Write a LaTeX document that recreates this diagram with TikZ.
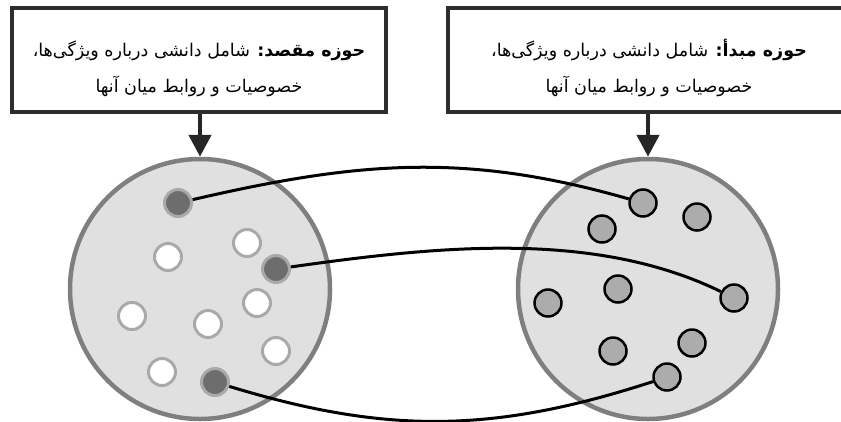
\documentclass[tikz,border=0pt]{standalone}
\usepackage{fontspec}
\usepackage{tikz}
\usetikzlibrary{arrows.meta}
\TeXXeTstate=1
\newfontfamily\arabicfont[Script=Arabic]{DejaVu Sans}
\definecolor{boxline}{HTML}{2E2E2E}
\definecolor{arrowline}{HTML}{262626}
\definecolor{discline}{HTML}{7F7F7F}
\definecolor{discfill}{HTML}{E0E0E0}
\definecolor{darkdot}{HTML}{6D6D6D}
\definecolor{dotring}{HTML}{A9A9A9}
\definecolor{greydot}{HTML}{ACACAC}

\begin{document}
\begin{tikzpicture}[x=1pt,y=-1pt,
  infobox/.style={draw=boxline,line width=4pt,fill=white,minimum height=104pt,
    align=center,font=\arabicfont\fontsize{17.5}{36}\selectfont},
  bigdisc/.style={circle,draw=discline,fill=discfill,line width=4.5pt,
    minimum size=260pt,inner sep=0pt},
  darkdotnode/.style={circle,draw=dotring,fill=darkdot,line width=3pt,
    minimum size=27pt,inner sep=0pt},
  whitedot/.style={circle,draw=dotring,fill=white,line width=3pt,
    minimum size=27pt,inner sep=0pt},
  greydotnode/.style={circle,draw=black,fill=greydot,line width=2.5pt,
    minimum size=27pt,inner sep=0pt},
  flowarrow/.style={draw=arrowline,fill=arrowline,line width=4.5pt,
    -{Triangle[width=22pt,length=22pt]}},
  link/.style={draw=black,line width=3pt}]

  % Fix the frame of the picture
  \clip (0,0) rectangle (841,421);

  % Two boxes with the descriptions
  \node[infobox,minimum width=374pt] (lbox) at (199,60)
    {\beginR\rule{0pt}{33pt}\textbf{حوزه مقصد:} شامل دانشی درباره ویژگی‌ها،\endR\\
     \beginR خصوصیات و روابط میان آنها\endR};
  \node[infobox,minimum width=402pt] (rbox) at (649,60)
    {\beginR\rule{0pt}{33pt}\textbf{حوزه مبدأ:} شامل دانشی درباره ویژگی‌ها،\endR\\
     \beginR خصوصیات و روابط میان آنها\endR};

  % Two domains
  \node[bigdisc] (ldisc) at (200,289) {};
  \node[bigdisc] (rdisc) at (648,289) {};

  % Arrows from the boxes down to the domains
  \draw[flowarrow] (lbox.south -| ldisc) -- (ldisc.north);
  \draw[flowarrow] (rbox.south -| rdisc) -- (rdisc.north);

  % Dots of the target domain
  \node[darkdotnode] (l1) at (178,203) {};
  \node[whitedot] (l2) at (247,243) {};
  \node[whitedot] (l3) at (168,257) {};
  \node[darkdotnode] (l4) at (276,269) {};
  \node[whitedot] (l5) at (257,303) {};
  \node[whitedot] (l6) at (132,316) {};
  \node[whitedot] (l7) at (208,324) {};
  \node[whitedot] (l8) at (276,351) {};
  \node[whitedot] (l9) at (162,372) {};
  \node[darkdotnode] (l10) at (215,382) {};

  % Dots of the source domain
  \node[greydotnode] (r1) at (643,203) {};
  \node[greydotnode] (r2) at (697,217) {};
  \node[greydotnode] (r3) at (602,229) {};
  \node[greydotnode] (r4) at (618,289) {};
  \node[greydotnode] (r5) at (734,298) {};
  \node[greydotnode] (r6) at (548,303) {};
  \node[greydotnode] (r7) at (692,343) {};
  \node[greydotnode] (r8) at (613,351) {};
  \node[greydotnode] (r9) at (667,377) {};

  % Links between the two domains
  \draw[link] (l1) to[out=13,in=164] (r1);
  \draw[link] (l4) to[out=8,in=154,looseness=0.85] (r5);
  \draw[link] (l10) to[out=-17,in=-162] (r9);
\end{tikzpicture}
\end{document}
